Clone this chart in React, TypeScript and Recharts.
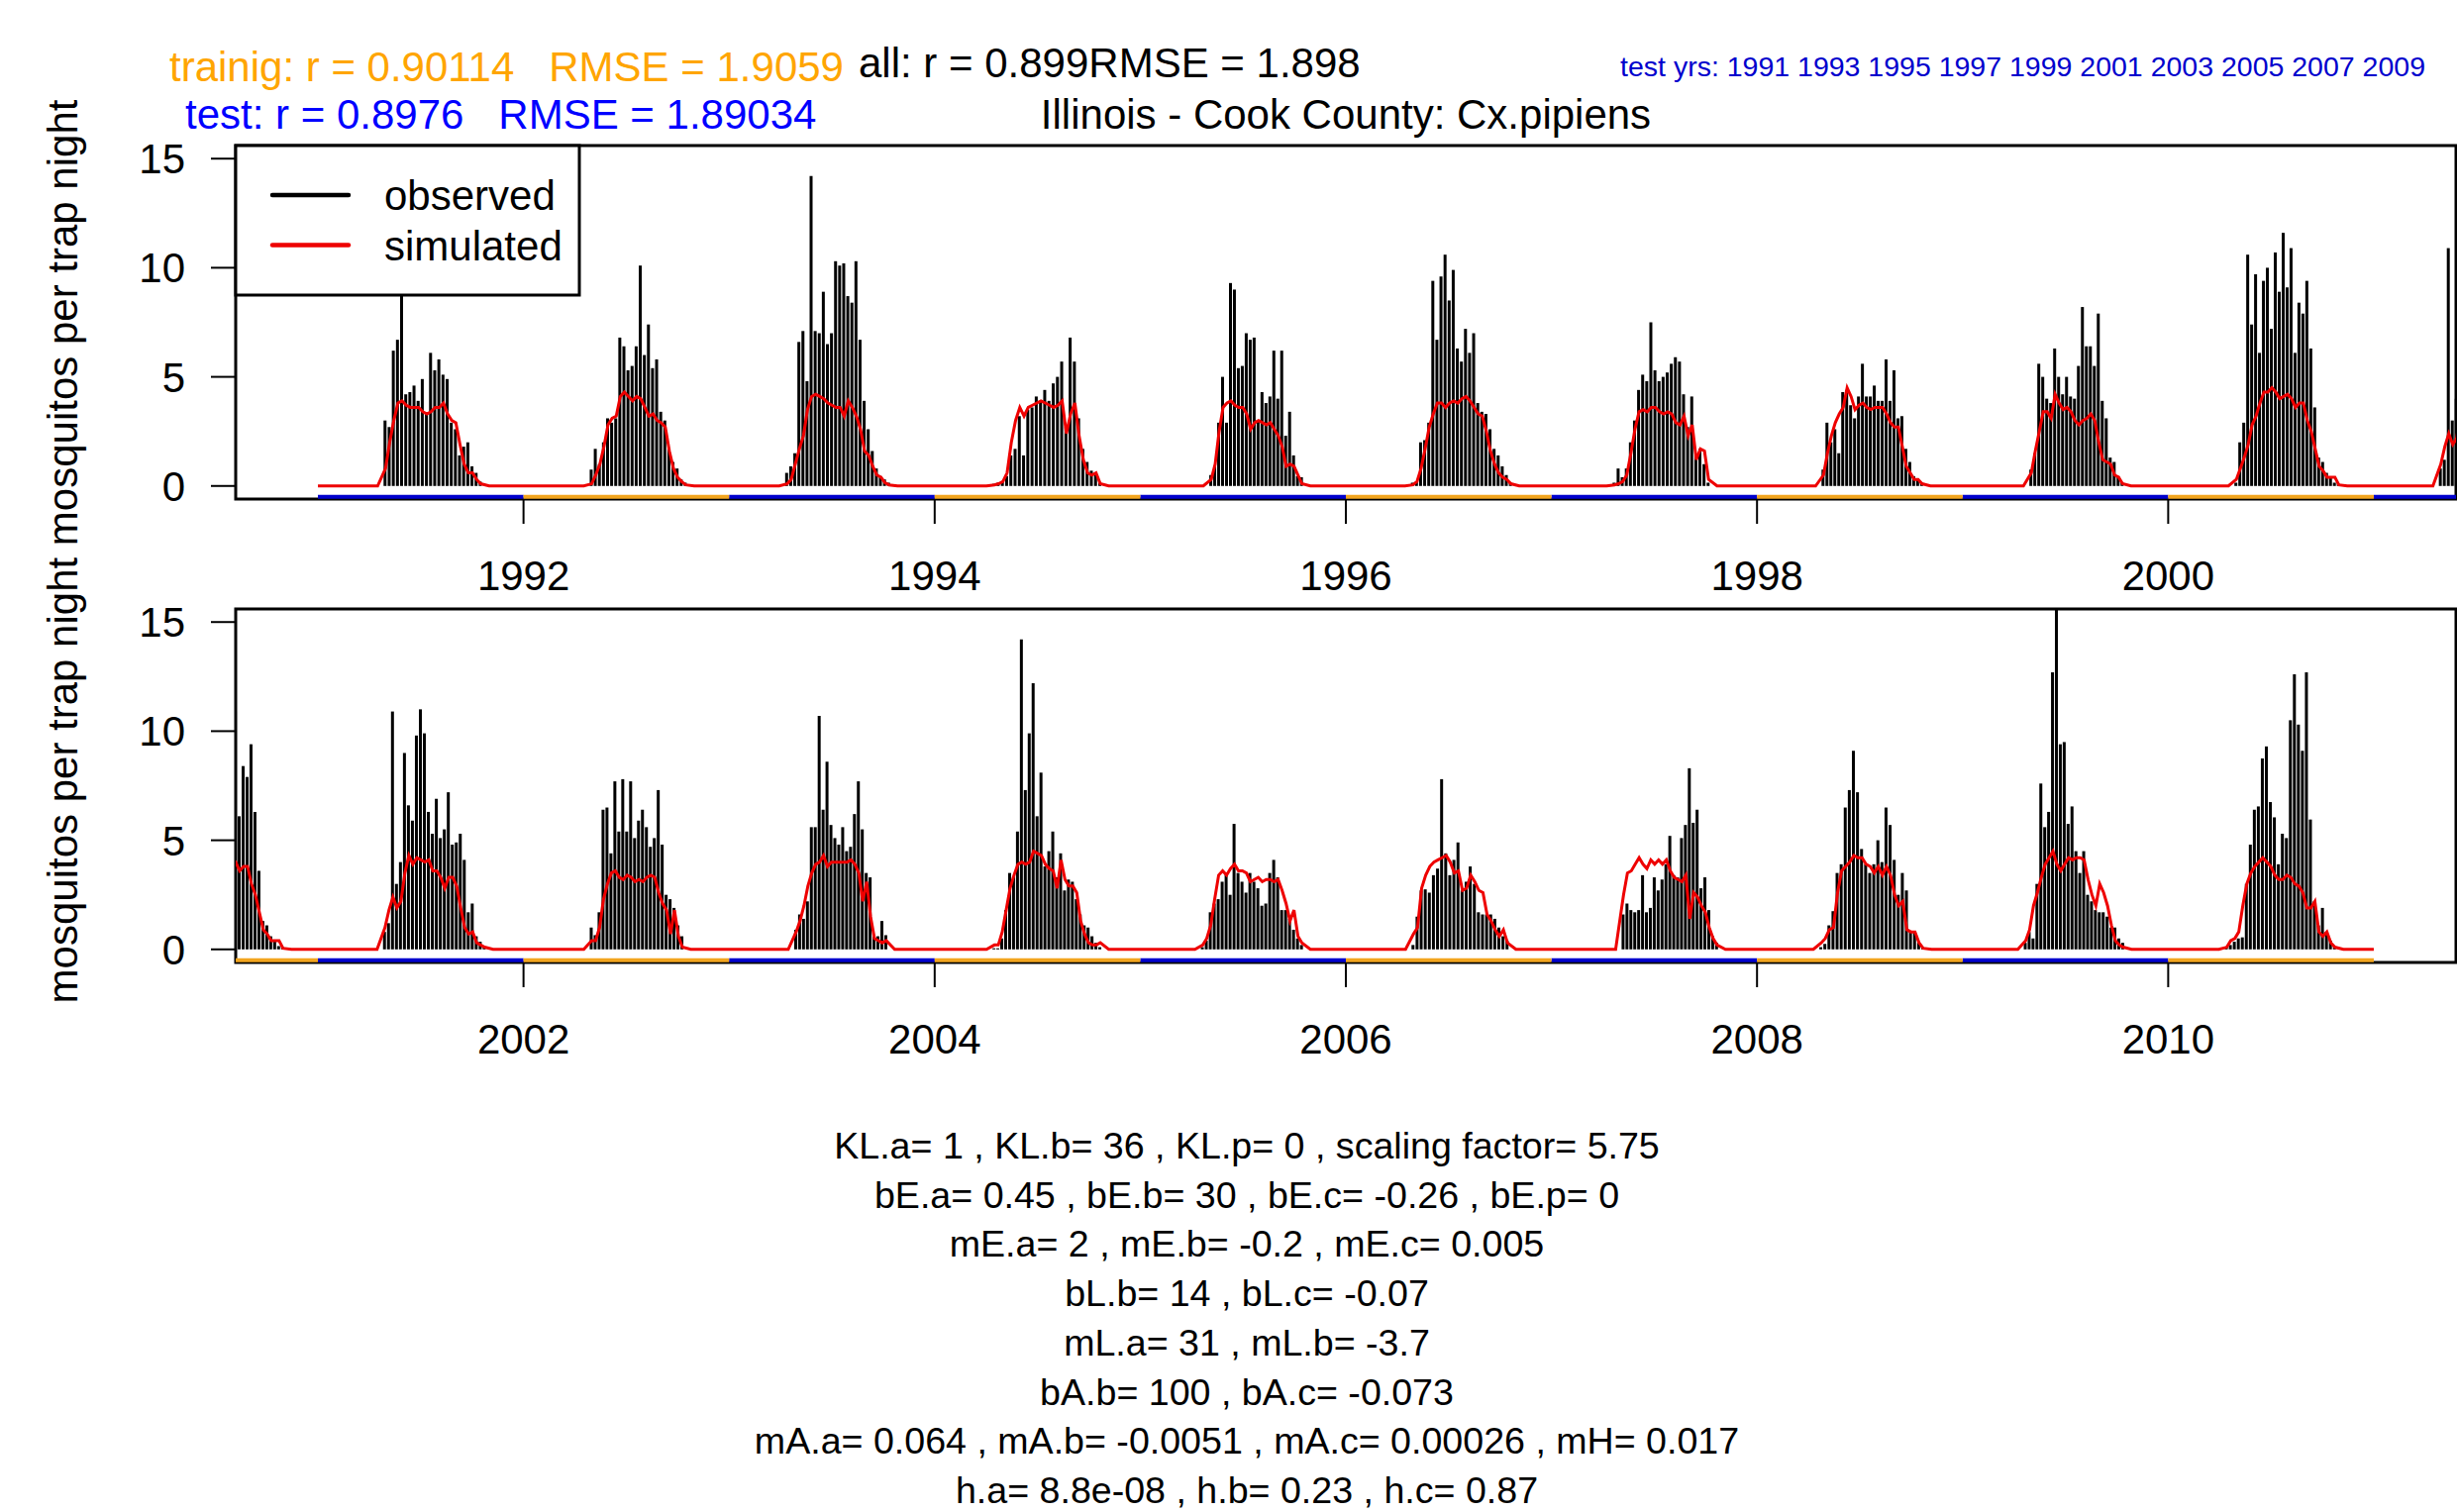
import {
  Bar,
  ComposedChart,
  Line,
  ReferenceArea,
  ReferenceLine,
  XAxis,
  YAxis,
} from "recharts";

const FONT = '"Liberation Sans", Arial, Helvetica, sans-serif';
const W = 2481;
const H = 1527;

// season sampling: first / last trap day (day of year) per year
const years = [
  1991, 1992, 1993, 1994, 1995, 1996, 1997, 1998, 1999, 2000,
  2001, 2002, 2003, 2004, 2005, 2006, 2007, 2008, 2009, 2010,
];
const startDay = [121, 122, 104, 107, 127, 120, 113, 119, 123, 122, 120, 122, 120, 107, 112, 121, 129, 115, 113, 105];
const endDay = [290, 289, 285, 295, 288, 294, 280, 294, 285, 304, 297, 283, 280, 295, 288, 288, 295, 296, 286, 297];

const testYears = [1991, 1993, 1995, 1997, 1999, 2001, 2003, 2005, 2007, 2009];
const trainYears = [1992, 1994, 1996, 1998, 2000, 2002, 2004, 2006, 2008, 2010];

// observed mosquitos per trap night (weekly)
const obs1991 = [3.0, 2.7, 6.2, 6.7, 11.5, 4.2, 4.3, 4.6, 3.9, 4.9, 3.3, 6.1, 5.3, 5.8, 5.1, 4.9, 2.9, 2.6, 1.4, 1.8, 2.0, 0.9, 0.6, 0.2];
const obs1992 = [0.75, 1.7, 1.0, 2.0, 3.1, 2.9, 3.1, 6.8, 6.4, 5.3, 5.5, 6.4, 10.1, 6.0, 7.4, 5.4, 5.8, 3.4, 3.0, 1.7, 1.1, 0.8, 0.3, 0.15];
const obs1993 = [0.6, 0.9, 1.5, 6.6, 7.1, 4.8, 14.2, 7.1, 7.0, 8.9, 6.5, 7.0, 10.3, 10.1, 10.2, 8.7, 8.4, 10.3, 6.7, 3.9, 2.6, 1.6, 0.8, 0.45, 0.3, 0.15];
const obs1994 = [0.1, 0.15, 0.2, 0.45, 1.4, 1.7, 3.2, 1.4, 3.5, 3.6, 4.1, 3.9, 4.4, 3.9, 4.7, 5.0, 5.7, 2.7, 6.8, 5.7, 3.1, 1.7, 1.1, 0.7, 0.6, 0.15];
const obs1995 = [0.5, 0.9, 2.9, 5.0, 2.9, 9.3, 9.0, 5.4, 5.5, 7.0, 6.7, 6.8, 3.0, 4.3, 3.8, 4.1, 6.2, 4.0, 6.2, 2.3, 3.4, 1.4, 0.45, 0.4];
const obs1996 = [0.15, 0.2, 2.0, 2.1, 2.9, 9.4, 6.7, 9.6, 10.6, 8.5, 9.9, 6.3, 5.7, 7.2, 6.1, 7.0, 3.8, 3.4, 3.3, 2.6, 1.7, 1.4, 0.9, 0.5, 0.15];
const obs1997 = [0.15, 0.8, 0.4, 0.8, 2.0, 3.0, 4.4, 5.1, 4.8, 7.5, 5.3, 4.8, 5.0, 5.2, 5.6, 5.9, 5.7, 4.2, 2.7, 4.1, 1.4, 1.7, 1.0, 0.15];
const obs1998 = [0.75, 2.9, 2.0, 2.6, 1.5, 4.3, 4.4, 3.7, 3.1, 4.1, 5.6, 4.1, 4.1, 4.6, 3.9, 3.9, 5.8, 3.9, 5.3, 3.1, 3.2, 1.7, 1.1, 0.45, 0.3, 0.15];
const obs1999 = [0.75, 1.5, 5.6, 5.0, 4.0, 3.8, 6.3, 5.0, 4.2, 5.0, 4.1, 4.0, 5.5, 8.2, 6.4, 6.4, 5.5, 7.9, 3.9, 3.1, 1.3, 1.1, 0.45, 0.15];
const obs2000 = [0.15, 2.0, 2.9, 10.6, 7.4, 9.7, 6.1, 9.4, 10.0, 7.2, 10.7, 8.9, 11.6, 9.1, 10.9, 6.1, 8.4, 7.9, 9.4, 6.3, 3.6, 1.3, 1.1, 0.6, 0.4, 0.15, 0.1];
const obs2001 = [0.8, 1.2, 10.9, 3.0, 4.0, 9.0, 6.6, 5.9, 9.8, 11.0, 9.9, 6.3, 5.3, 6.9, 5.1, 5.5, 7.2, 4.8, 4.9, 5.3, 4.1, 1.7, 2.1, 0.6, 0.35, 0.1];
const obs2002 = [1.0, 0.65, 1.7, 6.4, 6.5, 4.4, 7.7, 5.4, 7.8, 5.4, 7.7, 5.1, 5.9, 6.4, 5.6, 4.7, 5.1, 7.3, 4.8, 2.5, 2.3, 1.9, 1.1, 0.6];
const obs2003 = [0.9, 1.6, 1.4, 2.2, 5.6, 5.6, 10.7, 6.4, 8.6, 5.7, 5.1, 4.8, 5.6, 4.5, 4.7, 6.2, 7.7, 5.5, 3.5, 3.3, 0.6, 0.6, 1.3, 0.65];
const obs2004 = [0.05, 0.05, 0.5, 1.8, 3.5, 3.3, 5.4, 14.2, 7.3, 9.9, 12.2, 6.1, 8.1, 3.8, 4.5, 5.4, 3.3, 4.4, 2.7, 3.2, 3.1, 2.3, 1.6, 1.1, 1.0, 0.6, 0.3, 0.1];
const obs2005 = [0.1, 0.4, 1.7, 2.1, 2.3, 3.1, 3.5, 2.5, 5.75, 3.5, 3.1, 2.6, 3.5, 3.1, 2.8, 2.0, 2.1, 3.5, 4.1, 3.3, 1.8, 1.8, 1.4, 0.9, 0.5, 0.2];
const obs2006 = [0.2, 1.5, 2.7, 2.75, 2.6, 3.4, 3.7, 7.8, 4.4, 3.4, 4.1, 4.9, 2.7, 3.1, 3.8, 3.0, 1.7, 1.6, 1.6, 1.6, 1.4, 1.0, 0.6, 0.4];
const obs2007 = [1.6, 2.1, 1.8, 1.7, 1.8, 3.4, 1.7, 1.9, 3.3, 2.7, 3.2, 3.9, 5.2, 3.4, 3.3, 5.1, 5.7, 8.3, 5.8, 6.4, 2.8, 3.3, 1.8, 0.6, 0.3];
const obs2008 = [0.1, 0.25, 1.1, 1.75, 3.5, 3.9, 6.5, 7.3, 9.1, 7.2, 4.6, 3.9, 3.5, 3.9, 5.0, 4.0, 6.5, 5.7, 4.1, 2.5, 3.5, 2.7, 0.85, 0.8, 0.3, 0.1];
const obs2009 = [0.3, 0.8, 0.5, 3.0, 7.6, 5.6, 6.3, 12.7, 16.5, 9.4, 9.5, 5.75, 6.55, 4.5, 3.5, 4.5, 2.5, 2.2, 1.8, 1.7, 1.7, 1.5, 1.0, 1.0, 0.5, 0.3];
const obs2010 = [0.1, 0.2, 0.35, 0.5, 0.55, 3.0, 4.8, 6.4, 6.55, 8.75, 9.3, 6.75, 6.05, 3.9, 5.3, 5.1, 10.5, 12.6, 10.3, 9.1, 12.7, 5.95, 2.2, 1.1, 1.9, 0.8, 0.4, 0.1];

// simulated values at the same trap dates
const sim1991 = [0.8, 2.0, 3.0, 3.8, 3.9, 3.7, 3.6, 3.6, 3.6, 3.4, 3.3, 3.4, 3.6, 3.6, 3.8, 3.3, 3.0, 2.9, 1.9, 1.0, 0.6, 0.6, 0.3, 0.1];
const sim1992 = [0.1, 0.5, 1.0, 1.8, 2.8, 3.1, 3.2, 4.1, 4.3, 4.1, 3.9, 4.1, 4.0, 3.6, 3.2, 3.3, 3.0, 2.9, 2.7, 1.6, 0.8, 0.4, 0.2, 0.05];
const sim1993 = [0.1, 0.3, 1.0, 1.7, 2.3, 3.5, 4.1, 4.2, 4.1, 4.0, 3.8, 3.7, 3.6, 3.6, 3.2, 3.9, 3.6, 3.2, 2.6, 1.6, 1.4, 0.9, 0.5, 0.4, 0.15, 0.05];
const sim1994 = [0.05, 0.1, 0.2, 0.6, 2.0, 3.0, 3.6, 3.2, 3.6, 3.7, 3.8, 3.9, 3.8, 3.7, 3.6, 3.7, 3.9, 2.4, 3.3, 3.8, 2.3, 1.2, 0.6, 0.5, 0.6, 0.1];
const sim1995 = [0.3, 1.0, 2.5, 3.6, 3.8, 3.9, 3.7, 3.6, 3.6, 3.3, 2.6, 2.9, 3.0, 2.9, 2.8, 2.9, 2.6, 2.3, 1.8, 0.9, 1.0, 0.9, 0.5, 0.1];
const sim1996 = [0.05, 0.2, 0.8, 1.7, 2.7, 3.3, 3.8, 3.8, 3.6, 3.8, 3.9, 3.8, 4.0, 4.1, 3.9, 3.6, 3.3, 3.2, 2.5, 1.6, 1.0, 0.6, 0.4, 0.3, 0.1];
const sim1997 = [0.05, 0.1, 0.2, 0.5, 1.5, 2.6, 3.4, 3.5, 3.4, 3.6, 3.6, 3.4, 3.3, 3.4, 3.3, 2.9, 2.8, 3.2, 2.3, 2.8, 1.2, 1.7, 1.6, 0.3];
const sim1998 = [0.5, 1.5, 2.3, 2.9, 3.3, 3.6, 4.5, 4.1, 3.5, 3.7, 3.8, 3.6, 3.5, 3.6, 3.6, 3.6, 3.3, 2.9, 2.7, 2.7, 1.8, 0.9, 0.6, 0.3, 0.3, 0.1];
const sim1999 = [0.6, 1.6, 2.5, 3.4, 3.4, 3.1, 4.2, 3.8, 3.5, 3.6, 3.4, 3.0, 2.8, 3.0, 3.1, 3.3, 3.0, 2.0, 1.2, 1.1, 1.0, 0.5, 0.4, 0.1];
const sim2000 = [0.3, 0.8, 1.3, 1.9, 2.8, 3.2, 3.8, 4.3, 4.3, 4.5, 4.3, 4.0, 4.1, 4.2, 4.0, 3.6, 3.8, 3.8, 3.0, 2.5, 1.7, 0.9, 0.7, 0.4, 0.4, 0.4, 0.05];
const sim2001 = [1.0, 1.8, 2.4, 1.9, 2.2, 3.5, 4.3, 3.9, 4.2, 4.1, 4.0, 4.1, 3.6, 3.6, 3.3, 2.8, 3.3, 3.3, 2.9, 1.9, 1.0, 0.7, 0.8, 0.3, 0.2, 0.1];
const sim2002 = [0.4, 0.4, 1.0, 2.3, 3.0, 3.5, 3.6, 3.3, 3.2, 3.4, 3.3, 3.1, 3.2, 3.1, 3.3, 3.4, 3.3, 2.6, 2.1, 1.8, 0.7, 1.8, 0.6, 0.1];
const sim2003 = [0.8, 1.3, 2.0, 2.9, 3.5, 3.9, 4.0, 4.3, 3.8, 4.0, 4.0, 4.0, 4.0, 4.0, 4.1, 3.9, 3.5, 2.2, 3.1, 1.5, 0.5, 0.4, 0.3, 0.4];
const sim2004 = [0.2, 0.2, 0.8, 1.8, 2.8, 3.4, 3.9, 4.0, 3.9, 4.0, 4.5, 4.4, 4.3, 3.9, 3.7, 3.6, 2.8, 4.1, 3.2, 2.9, 2.9, 2.6, 1.3, 0.7, 0.3, 0.2, 0.2, 0.3];
const sim2005 = [0.2, 0.5, 1.1, 2.3, 3.4, 3.6, 3.4, 3.7, 3.9, 3.6, 3.6, 3.5, 3.1, 3.2, 3.3, 3.1, 3.2, 3.2, 3.1, 3.2, 2.7, 2.1, 1.3, 1.8, 0.6, 0.3];
const sim2006 = [0.7, 1.0, 2.8, 3.4, 3.8, 4.0, 4.1, 4.2, 4.3, 4.0, 3.5, 3.6, 2.7, 2.8, 3.4, 3.1, 2.7, 2.6, 1.6, 1.3, 0.9, 0.6, 0.9, 0.3];
const sim2007 = [2.5, 3.5, 3.6, 3.9, 4.2, 3.9, 3.7, 4.1, 3.9, 4.1, 3.9, 4.1, 3.6, 3.3, 3.2, 3.1, 3.4, 1.4, 2.6, 2.4, 2.0, 1.7, 1.0, 0.5, 0.2];
const sim2008 = [0.3, 0.5, 0.9, 1.0, 2.6, 3.6, 3.8, 4.0, 4.3, 4.2, 4.2, 3.9, 3.8, 3.5, 3.8, 3.4, 3.8, 3.4, 2.5, 2.0, 2.2, 0.9, 0.8, 0.8, 0.3, 0.05];
const sim2009 = [0.4, 0.9, 2.0, 2.6, 3.3, 3.9, 4.2, 4.5, 3.9, 3.6, 3.9, 4.2, 4.1, 4.2, 4.2, 4.1, 3.2, 2.5, 2.0, 3.0, 2.6, 2.0, 1.1, 0.4, 0.2, 0.1];
const sim2010 = [0.1, 0.4, 0.5, 0.8, 2.0, 3.0, 3.5, 3.8, 4.0, 4.2, 4.0, 3.8, 3.4, 3.2, 3.2, 3.4, 3.3, 3.0, 2.9, 2.6, 1.9, 1.9, 2.2, 0.8, 0.6, 0.8, 0.3, 0.1];

const obsByYear = [
  obs1991, obs1992, obs1993, obs1994, obs1995, obs1996, obs1997, obs1998, obs1999, obs2000,
  obs2001, obs2002, obs2003, obs2004, obs2005, obs2006, obs2007, obs2008, obs2009, obs2010,
];
const simByYear = [
  sim1991, sim1992, sim1993, sim1994, sim1995, sim1996, sim1997, sim1998, sim1999, sim2000,
  sim2001, sim2002, sim2003, sim2004, sim2005, sim2006, sim2007, sim2008, sim2009, sim2010,
];

const paramLines = [
  "KL.a= 1 , KL.b= 36 , KL.p= 0 , scaling factor= 5.75",
  "bE.a= 0.45 , bE.b= 30 , bE.c= -0.26 , bE.p= 0",
  "mE.a= 2 , mE.b= -0.2 , mE.c= 0.005",
  "bL.b= 14 , bL.c= -0.07",
  "mL.a= 31 , mL.b= -3.7",
  "bA.b= 100 , bA.c= -0.073",
  "mA.a= 0.064 , mA.b= -0.0051 , mA.c= 0.00026 , mH= 0.017",
  "h.a= 8.8e-08 , h.b= 0.23 , h.c= 0.87",
];

type Row = { t: number; obs?: number; sim: number };

function buildRows(): Row[] {
  const rows: Row[] = [];
  years.forEach((y, i) => {
    const obs = obsByYear[i];
    const sim = simByYear[i];
    const s = startDay[i];
    const e = endDay[i];
    const n = obs.length;
    rows.push({ t: y, sim: 0 });
    rows.push({ t: y + (s - 15) / 365, sim: 0 });
    for (let k = 0; k < n; k++) {
      const d = s + (k * (e - s)) / (n - 1);
      rows.push({ t: y + (d - 1) / 365, obs: obs[k], sim: sim[k] });
    }
    rows.push({ t: y + (e + 14) / 365, sim: 0 });
  });
  rows.push({ t: 2011, sim: 0 });
  return rows;
}

const allRows = buildRows();

function Panel({ x0, x1, ticks, top }: { x0: number; x1: number; ticks: number[]; top: number }) {
  const data = allRows.filter((r) => r.t >= x0 - 0.3 && r.t <= x1 + 0.3);
  const tickStyle = { fontSize: 42, fill: "#000", fontFamily: FONT };
  return (
    <div style={{ position: "absolute", left: 0, top, width: W, height: 620 }}>
      <ComposedChart
        width={W}
        height={620}
        data={data}
        margin={{ top: 147, right: 1, bottom: 36, left: 138 }}
      >
        <XAxis
          dataKey="t"
          type="number"
          domain={[x0, x1]}
          allowDataOverflow
          ticks={ticks}
          tickFormatter={(v) => String(v)}
          tickSize={25}
          tickMargin={37}
          axisLine={false}
          tickLine={{ stroke: "#000", strokeWidth: 2 }}
          tick={tickStyle}
          height={80}
        />
        <YAxis
          type="number"
          domain={[-0.6, 15.6]}
          allowDataOverflow
          ticks={[0, 5, 10, 15]}
          tickSize={25}
          tickMargin={26}
          axisLine={false}
          tickLine={{ stroke: "#000", strokeWidth: 2 }}
          tick={tickStyle}
          width={100}
        />
        <Bar dataKey="obs" fill="#000" barSize={3} isAnimationActive={false} />
        <Line
          type="linear"
          dataKey="sim"
          stroke="#ee0000"
          strokeWidth={3}
          dot={false}
          isAnimationActive={false}
        />
        <ReferenceArea
          x1={x0}
          x2={x1}
          y1={-0.6}
          y2={15.6}
          fill="none"
          fillOpacity={0}
          stroke="#000"
          strokeWidth={3}
        />
        {testYears.map((y) => (
          <ReferenceLine
            key={"te" + y}
            segment={[{ x: y, y: -0.5 }, { x: y + 1, y: -0.5 }]}
            stroke="#0000cd"
            strokeWidth={4}
            ifOverflow="hidden"
          />
        ))}
        {trainYears.map((y) => (
          <ReferenceLine
            key={"tr" + y}
            segment={[{ x: y, y: -0.5 }, { x: y + 1, y: -0.5 }]}
            stroke="#f2a51f"
            strokeWidth={4}
            ifOverflow="hidden"
          />
        ))}
      </ComposedChart>
    </div>
  );
}

function LegendBox() {
  return (
    <svg
      width={352}
      height={156}
      style={{ position: "absolute", left: 236, top: 145 }}
    >
      <rect x={2} y={2} width={347} height={151} fill="#fff" stroke="#000" strokeWidth={3} />
      <line x1={39} y1={52} x2={116} y2={52} stroke="#000" strokeWidth={4.5} strokeLinecap="round" />
      <line x1={39} y1={102.5} x2={116} y2={102.5} stroke="#ee0000" strokeWidth={4.5} strokeLinecap="round" />
      <text x={152} y={67} fontSize={42} fontFamily={FONT} fill="#000">observed</text>
      <text x={152} y={118} fontSize={42} fontFamily={FONT} fill="#000">simulated</text>
    </svg>
  );
}

function Annotations() {
  const pre = { whiteSpace: "pre" as const };
  return (
    <svg
      width={W}
      height={H}
      style={{ position: "absolute", left: 0, top: 0, pointerEvents: "none" }}
      fontFamily={FONT}
    >
      <text x={171} y={82} fontSize={42} fill="#FFA500" style={pre}>
        {"trainig: r = 0.90114   RMSE = 1.9059"}
      </text>
      <text x={867} y={78} fontSize={42} fill="#000">
        all: r = 0.899RMSE = 1.898
      </text>
      <text x={2449} y={77} fontSize={28.5} fill="#0000cd" textAnchor="end">
        test yrs: 1991 1993 1995 1997 1999 2001 2003 2005 2007 2009
      </text>
      <text x={187} y={130} fontSize={42} fill="#0000ff" style={pre}>
        {"test: r = 0.8976   RMSE = 1.89034"}
      </text>
      <text x={1359} y={130} fontSize={42} fill="#000" textAnchor="middle">
        Illinois - Cook County: Cx.pipiens
      </text>
      <text
        transform="translate(78,557) rotate(-90)"
        fontSize={42}
        fill="#000"
        textAnchor="middle"
      >
        mosquitos per trap night mosquitos per trap night
      </text>
      {paramLines.map((s, i) => (
        <text key={i} x={1259} y={1170 + i * 49.7} fontSize={37.6} fill="#000" textAnchor="middle">
          {s}
        </text>
      ))}
    </svg>
  );
}

export default function App() {
  return (
    <div
      style={{
        position: "absolute",
        left: 0,
        top: 0,
        width: W,
        height: H,
        background: "#fff",
        overflow: "hidden",
        fontFamily: FONT,
      }}
    >
      <Panel x0={1990.6} x1={2001.4} ticks={[1992, 1994, 1996, 1998, 2000]} top={0} />
      <Panel x0={2000.6} x1={2011.4} ticks={[2002, 2004, 2006, 2008, 2010]} top={468} />
      <LegendBox />
      <Annotations />
    </div>
  );
}
